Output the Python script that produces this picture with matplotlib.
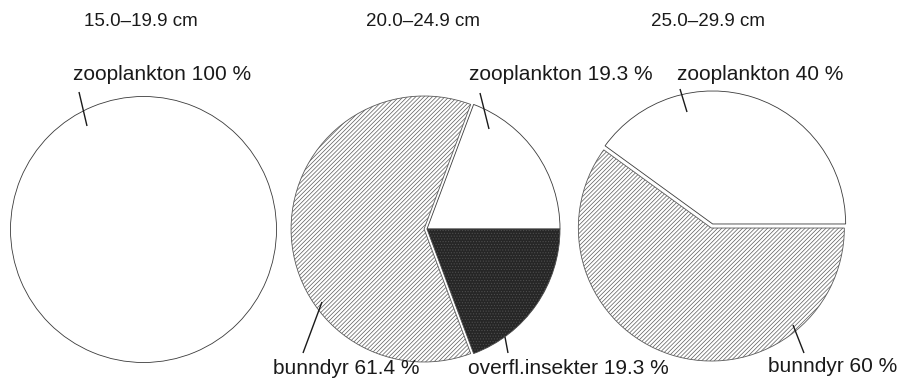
import matplotlib
matplotlib.use("Agg")
import matplotlib.pyplot as plt

plt.rcParams["font.family"] = ["Liberation Sans", "DejaVu Sans"]
plt.rcParams["hatch.linewidth"] = 0.5

# Diet composition (% of stomach content) by fish length class
length_classes = ["15.0\u201319.9 cm", "20.0\u201324.9 cm", "25.0\u201329.9 cm"]

small_labels = ["zooplankton"]
small_values = [100]

mid_labels = ["zooplankton", "bunndyr", "overfl.insekter"]
mid_values = [19.3, 61.4, 19.3]

large_labels = ["zooplankton", "bunndyr"]
large_values = [40, 60]

W, H = 907, 383
fig = plt.figure(figsize=(W / 100, H / 100), dpi=100)
fig.patch.set_facecolor("white")

# overlay axes in pixel units (y downwards) for titles, labels and leader lines
ov = fig.add_axes([0, 0, 1, 1], zorder=5)
ov.set_xlim(0, W)
ov.set_ylim(H, 0)
ov.axis("off")
ov.patch.set_alpha(0)

R = 133.0
LIM = 1.15


def pie_axes(cx, cy):
    w = 2 * LIM * R
    return fig.add_axes([(cx - LIM * R) / W, 1 - (cy + LIM * R) / H, w / W, w / H])


styles = {
    "zooplankton": dict(facecolor="white", edgecolor="#3a3a3a", hatch=None),
    "bunndyr": dict(facecolor="white", edgecolor="#5a5a5a", hatch="////////"),
    "overfl.insekter": dict(facecolor="#262626", edgecolor="#4d4d4d", hatch="......"),
}


def draw_pie(ax, labels, values, explode):
    wedges, _ = ax.pie(values, startangle=0, counterclock=True, explode=explode,
                       radius=1.0, wedgeprops=dict(linewidth=0.6))
    for wdg, lab in zip(wedges, labels):
        st = styles[lab]
        wdg.set_facecolor(st["facecolor"])
        wdg.set_edgecolor(st["edgecolor"])
        if st["hatch"]:
            wdg.set_hatch(st["hatch"])
    ax.set_aspect("auto")
    ax.set_xlim(-LIM, LIM)
    ax.set_ylim(-LIM, LIM)
    ax.axis("off")
    return wedges


ax1 = pie_axes(143.5, 229.5)
draw_pie(ax1, small_labels, small_values, [0])

ax2 = pie_axes(427, 229)
draw_pie(ax2, mid_labels, mid_values, [0, 0.022, 0])

ax3 = pie_axes(712, 226)
draw_pie(ax3, large_labels, large_values, [0.016, 0.016])

# titles
title_x = [141, 423, 708]
for x, t in zip(title_x, length_classes):
    ov.text(x, 21, t, ha="center", va="center", fontsize=13.5, color="#1a1a1a")

lab_fs = 15
txt = dict(fontsize=lab_fs, color="#1a1a1a", va="center")
ov.text(73, 75, f"{small_labels[0]} {small_values[0]:g} %", ha="left", **txt)
ov.text(469, 75, f"{mid_labels[0]} {mid_values[0]:g} %", ha="left", **txt)
ov.text(677, 75, f"{large_labels[0]} {large_values[0]:g} %", ha="left", **txt)
ov.text(273, 369, f"{mid_labels[1]} {mid_values[1]:g} %", ha="left", **txt)
ov.text(468, 369, f"{mid_labels[2]} {mid_values[2]:g} %", ha="left", **txt)
ov.text(768, 367, f"{large_labels[1]} {large_values[1]:g} %", ha="left", **txt)

# leader lines
leaders = [
    ((79, 92), (87, 126)),
    ((480, 93), (489, 129)),
    ((303, 353), (322, 302)),
    ((508, 353), (505, 337)),
    ((680, 89), (687, 112)),
    ((804, 353), (793, 325)),
]
for (x0, y0), (x1, y1) in leaders:
    ov.plot([x0, x1], [y0, y1], color="#1a1a1a", lw=1.0, solid_capstyle="butt")

fig.savefig("out.png", dpi=100, facecolor="white")
